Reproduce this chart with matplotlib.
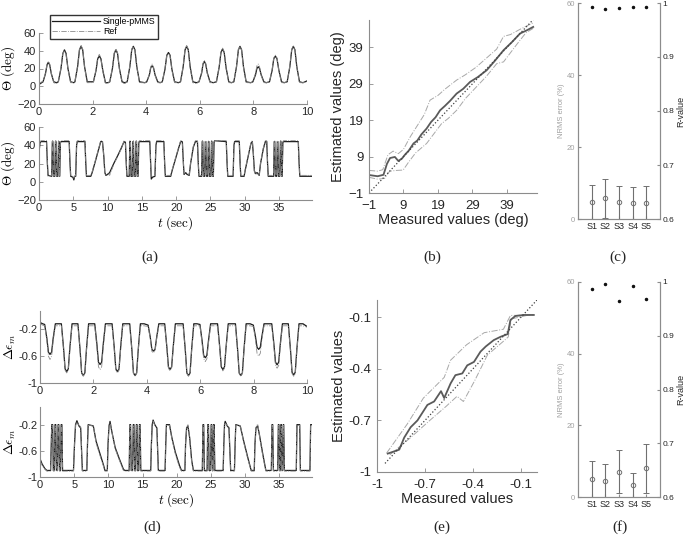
import numpy as np
import matplotlib
matplotlib.use("Agg")
import matplotlib.pyplot as plt

plt.rcParams['font.family'] = ['Liberation Sans', 'DejaVu Sans']
plt.rcParams['mathtext.fontset'] = 'cm'
plt.rcParams['axes.linewidth'] = 0.8

# ---- (a) top: Theta, 0-10 s  (t, single-pMMS, ref)
a1 = [
    (0.0, 2, 3), (0.1, 4, 5),
    (0.15, 5, 5), (0.24, 14, 15), (0.3, 24, 25), (0.35, 27, 28), (0.4, 24, 25), (0.46, 14, 15), (0.55, 5, 4), (0.65, 4, 3),
    (0.72, 5, 5), (0.82, 20, 21), (0.89, 37, 37), (0.95, 41, 40), (1.01, 37, 36), (1.08, 20, 19), (1.18, 5, 4), (1.3, 4, 4),
    (1.34, 5, 5), (1.44, 22, 23), (1.51, 41, 42), (1.57, 45, 46), (1.63, 41, 42), (1.7, 22, 21), (1.8, 5, 4), (1.95, 5, 4),
    (2.03, 5, 5), (2.13, 18, 19), (2.19, 31, 32), (2.25, 34, 36), (2.31, 31, 32), (2.38, 18, 17), (2.48, 4, 3), (2.58, 4, 4),
    (2.64, 5, 5), (2.74, 20, 21), (2.81, 37, 38), (2.87, 41, 42), (2.93, 37, 38), (3.0, 20, 19), (3.1, 5, 4), (3.2, 4, 3),
    (3.29, 5, 5), (3.39, 22, 23), (3.46, 41, 42), (3.52, 45, 45), (3.58, 41, 41), (3.65, 22, 21), (3.75, 5, 4), (3.95, 4, 4),
    (4.02, 5, 5), (4.12, 13, 14), (4.17, 21, 22), (4.22, 23, 25), (4.27, 21, 22), (4.33, 13, 12), (4.43, 5, 4), (4.52, 4, 4),
    (4.6, 5, 5), (4.7, 19, 20), (4.77, 35, 35), (4.83, 38, 37), (4.89, 35, 34), (4.96, 19, 18), (5.06, 5, 4), (5.2, 4, 4),
    (5.28, 5, 5), (5.38, 22, 23), (5.45, 41, 42), (5.51, 45, 46), (5.57, 41, 42), (5.64, 22, 21), (5.74, 5, 4), (5.88, 4, 3),
    (5.97, 5, 5), (6.07, 15, 16), (6.12, 25, 26), (6.17, 28, 29), (6.22, 25, 26), (6.28, 15, 14), (6.38, 5, 4), (6.5, 4, 4),
    (6.62, 5, 5), (6.72, 21, 22), (6.79, 38, 39), (6.85, 42, 43), (6.91, 38, 39), (6.98, 21, 20), (7.08, 5, 4), (7.18, 4, 4),
    (7.27, 5, 5), (7.37, 22, 23), (7.44, 41, 42), (7.5, 45, 45), (7.56, 41, 41), (7.63, 22, 21), (7.73, 5, 4), (7.9, 4, 4),
    (7.98, 5, 5), (8.08, 13, 15), (8.13, 20, 23), (8.18, 22, 25), (8.23, 20, 22), (8.29, 13, 12), (8.39, 5, 4), (8.48, 4, 4),
    (8.6, 5, 5), (8.7, 18, 19), (8.76, 31, 32), (8.82, 34, 35), (8.88, 31, 32), (8.95, 18, 17), (9.05, 5, 4), (9.15, 4, 4),
    (9.26, 5, 5), (9.36, 22, 23), (9.43, 41, 42), (9.49, 45, 45), (9.55, 41, 41), (9.62, 22, 21), (9.72, 5, 4), (9.85, 4, 4),
    (10.0, 6, 5),
]

# ---- (a) bottom: Theta, 0-40 s
a2 = [
    (0.0, 32, 34), (0.15, 43, 44), (0.3, 44, 45), (1.1, 44, 45), (1.22, 20, 22), (1.32, 7, 6), (1.85, 6, 7),
    (1.95, 44, 45), (2.02, 44, 45), (2.12, 6, 6), (2.3, 6, 7), (2.4, 44, 45), (2.47, 44, 45), (2.57, 6, 6),
    (2.75, 6, 7), (2.85, 44, 45), (2.92, 44, 45), (3.02, 6, 6),
    (3.12, 43, 44), (3.25, 44, 45), (4.4, 44, 45), (4.52, 20, 21), (4.62, 6, 7), (4.95, 5, 6), (5.08, 2, 4),
    (5.2, 6, 6), (5.35, 6, 7), (5.48, 40, 41), (5.58, 44, 45),
    (6.7, 44, 45), (6.82, 20, 21), (6.92, 6, 7), (7.55, 6, 7), (7.75, 10, 11), (8.2, 22, 23), (8.7, 36, 37),
    (9.0, 44, 45), (9.25, 44, 45), (9.45, 28, 27), (9.6, 10, 9), (9.75, 7, 8),
    (10.0, 8, 9), (10.3, 10, 7), (10.9, 20, 19), (11.5, 29, 28), (12.0, 37, 36), (12.4, 44, 45), (12.6, 43, 44),
    (12.72, 20, 21), (12.82, 6, 7), (13.15, 6, 7),
    (13.25, 44, 45), (13.32, 44, 45), (13.42, 6, 6), (13.6, 6, 7), (13.7, 44, 45), (13.77, 44, 45), (13.87, 6, 6),
    (14.05, 6, 7), (14.15, 44, 45), (14.22, 44, 45), (14.32, 6, 6), (14.45, 6, 7),
    (14.55, 43, 44), (14.65, 44, 45), (16.15, 44, 45), (16.27, 20, 21), (16.37, 3, 5), (16.55, 5, 6), (16.9, 6, 7),
    (17.05, 40, 41), (17.15, 44, 45),
    (18.2, 44, 45), (18.32, 20, 21), (18.42, 6, 7), (19.2, 6, 7), (19.4, 12, 13), (19.9, 25, 26), (20.4, 38, 39),
    (20.65, 44, 45), (20.9, 44, 45), (21.05, 20, 21), (21.15, 8, 9),
    (21.35, 10, 11), (21.6, 8, 9), (21.9, 7, 8), (22.1, 20, 21), (22.5, 38, 39), (22.8, 44, 45), (23.1, 44, 45),
    (23.22, 20, 21), (23.32, 6, 7), (23.7, 6, 7),
    (23.8, 44, 45), (23.87, 44, 45), (23.97, 6, 6), (24.15, 6, 7), (24.25, 44, 45), (24.32, 44, 45), (24.42, 6, 6),
    (24.6, 6, 7), (24.7, 44, 45), (24.77, 44, 45), (24.87, 6, 6), (25.05, 6, 7), (25.15, 44, 45), (25.2, 44, 45),
    (25.3, 6, 6), (25.42, 6, 7),
    (25.52, 43, 44), (25.6, 45, 45), (27.3, 44, 45), (27.42, 20, 21), (27.52, 6, 7), (28.3, 6, 7), (28.42, 40, 41),
    (28.52, 44, 45), (29.2, 44, 45), (29.32, 20, 21), (29.42, 6, 7), (29.9, 6, 7),
    (30.1, 14, 15), (30.5, 28, 29), (30.9, 42, 43), (31.1, 44, 45), (31.25, 30, 31), (31.4, 12, 11), (31.55, 9, 8),
    (31.8, 10, 9), (32.1, 7, 8),
    (32.3, 20, 21), (32.7, 36, 37), (33.0, 44, 45), (33.2, 44, 45), (33.32, 20, 21), (33.42, 6, 7), (34.2, 6, 7),
    (34.3, 44, 45), (34.37, 44, 45), (34.47, 6, 6), (34.65, 6, 7), (34.75, 44, 45), (34.82, 44, 45), (34.92, 6, 6),
    (35.1, 6, 7), (35.2, 44, 45), (35.27, 44, 45), (35.37, 6, 6), (35.45, 6, 7),
    (35.55, 43, 44), (35.65, 44, 45), (37.8, 44, 45), (37.92, 20, 21), (38.02, 6, 7), (39.75, 6, 7),
]

# ---- (d) top: delta eps_m, 0-10 s
d1 = [
    (0.0, -0.1, -0.12), (0.1, -0.12, -0.14),
    (0.175, -0.13, -0.15), (0.255, -0.33, -0.37), (0.315, -0.54, -0.6), (0.375, -0.575, -0.65), (0.435, -0.54, -0.6), (0.495, -0.33, -0.37), (0.575, -0.12, -0.15), (0.7, -0.12, -0.15),
    (0.8, -0.12, -0.15), (0.88, -0.47, -0.5), (0.94, -0.79, -0.81), (1.0, -0.83, -0.85), (1.06, -0.79, -0.81), (1.12, -0.47, -0.5), (1.2, -0.12, -0.15), (1.32, -0.12, -0.15),
    (1.42, -0.12, -0.15), (1.5, -0.5, -0.52), (1.56, -0.85, -0.86), (1.62, -0.89, -0.9), (1.68, -0.85, -0.86), (1.74, -0.5, -0.52), (1.82, -0.12, -0.15), (1.95, -0.12, -0.15),
    (2.05, -0.12, -0.15), (2.13, -0.42, -0.47), (2.19, -0.69, -0.76), (2.25, -0.725, -0.8), (2.31, -0.69, -0.76), (2.37, -0.42, -0.47), (2.45, -0.12, -0.15), (2.58, -0.12, -0.15),
    (2.7, -0.12, -0.15), (2.78, -0.47, -0.5), (2.84, -0.79, -0.81), (2.9, -0.83, -0.85), (2.96, -0.79, -0.81), (3.02, -0.47, -0.5), (3.1, -0.12, -0.15), (3.22, -0.12, -0.15),
    (3.36, -0.12, -0.15), (3.44, -0.5, -0.52), (3.5, -0.85, -0.86), (3.56, -0.89, -0.9), (3.62, -0.85, -0.86), (3.68, -0.5, -0.52), (3.76, -0.12, -0.15), (3.9, -0.12, -0.15),
    (4.05, -0.14, -0.16), (4.13, -0.32, -0.34), (4.19, -0.5, -0.53), (4.25, -0.525, -0.55), (4.31, -0.5, -0.53), (4.37, -0.32, -0.34), (4.45, -0.12, -0.15), (4.55, -0.12, -0.15),
    (4.67, -0.12, -0.15), (4.75, -0.46, -0.48), (4.81, -0.76, -0.78), (4.87, -0.8, -0.82), (4.93, -0.76, -0.78), (4.99, -0.46, -0.48), (5.07, -0.12, -0.15), (5.22, -0.12, -0.15),
    (5.36, -0.12, -0.15), (5.44, -0.5, -0.52), (5.5, -0.85, -0.86), (5.56, -0.89, -0.9), (5.62, -0.85, -0.86), (5.68, -0.5, -0.52), (5.76, -0.12, -0.15), (5.88, -0.12, -0.15),
    (5.99, -0.13, -0.15), (6.07, -0.37, -0.41), (6.13, -0.59, -0.64), (6.19, -0.625, -0.68), (6.25, -0.59, -0.64), (6.31, -0.37, -0.41), (6.39, -0.12, -0.15), (6.52, -0.12, -0.15),
    (6.65, -0.12, -0.15), (6.73, -0.46, -0.48), (6.79, -0.76, -0.78), (6.85, -0.8, -0.82), (6.91, -0.76, -0.78), (6.97, -0.46, -0.48), (7.05, -0.12, -0.15), (7.18, -0.12, -0.15),
    (7.32, -0.12, -0.15), (7.4, -0.5, -0.52), (7.46, -0.85, -0.86), (7.52, -0.89, -0.9), (7.58, -0.85, -0.86), (7.64, -0.5, -0.52), (7.72, -0.12, -0.15), (7.87, -0.12, -0.15),
    (7.99, -0.14, -0.16), (8.07, -0.31, -0.36), (8.13, -0.47, -0.56), (8.19, -0.5, -0.6), (8.25, -0.47, -0.56), (8.31, -0.31, -0.36), (8.39, -0.12, -0.15), (8.54, -0.12, -0.15),
    (8.68, -0.12, -0.15), (8.76, -0.42, -0.46), (8.82, -0.69, -0.74), (8.88, -0.73, -0.78), (8.94, -0.69, -0.74), (9.0, -0.42, -0.46), (9.08, -0.12, -0.15), (9.17, -0.12, -0.15),
    (9.3, -0.12, -0.15), (9.38, -0.5, -0.52), (9.44, -0.84, -0.86), (9.5, -0.88, -0.9), (9.56, -0.84, -0.86), (9.62, -0.5, -0.52), (9.7, -0.12, -0.15), (9.85, -0.12, -0.15),
    (10.0, -0.16, -0.17),
]

# ---- (d) bottom: delta eps_m, 0-40 s
d2 = [
    (0.0, -0.72, -0.75), (0.3, -0.8, -0.82), (0.7, -0.87, -0.88), (1.0, -0.9, -0.91), (1.55, -0.9, -0.91),
    (1.65, -0.5, -0.52), (1.72, -0.2, -0.21),
    (1.85, -0.2, -0.21), (1.95, -0.9, -0.91), (2.1, -0.9, -0.91), (2.2, -0.2, -0.21), (2.3, -0.2, -0.21),
    (2.4, -0.9, -0.91), (2.55, -0.9, -0.91), (2.65, -0.2, -0.21), (2.75, -0.2, -0.21), (2.85, -0.9, -0.91),
    (3.0, -0.9, -0.91), (3.1, -0.2, -0.21), (3.2, -0.2, -0.21), (3.3, -0.9, -0.91),
    (4.9, -0.9, -0.91), (5.05, -0.5, -0.52), (5.2, -0.2, -0.21), (5.4, -0.14, -0.17), (5.7, -0.22, -0.21),
    (5.95, -0.25, -0.23), (6.08, -0.6, -0.6), (6.2, -0.9, -0.91),
    (6.85, -0.9, -0.91), (6.95, -0.5, -0.52), (7.05, -0.2, -0.21), (7.8, -0.22, -0.21), (8.2, -0.45, -0.48),
    (8.8, -0.65, -0.68), (9.3, -0.82, -0.84), (9.5, -0.9, -0.91),
    (9.85, -0.9, -0.91), (9.95, -0.5, -0.5), (10.1, -0.22, -0.2), (10.25, -0.15, -0.17), (10.5, -0.3, -0.3),
    (11.0, -0.55, -0.57), (11.6, -0.72, -0.74), (12.2, -0.88, -0.9), (12.4, -0.9, -0.91),
    (13.05, -0.9, -0.91), (13.15, -0.2, -0.21), (13.25, -0.2, -0.21), (13.35, -0.9, -0.91), (13.55, -0.9, -0.91),
    (13.65, -0.2, -0.21), (13.75, -0.2, -0.21), (13.85, -0.9, -0.91), (14.0, -0.9, -0.91), (14.1, -0.2, -0.21),
    (14.2, -0.2, -0.21), (14.3, -0.9, -0.91), (14.45, -0.9, -0.91), (14.55, -0.2, -0.21), (14.65, -0.2, -0.21),
    (14.75, -0.9, -0.91),
    (16.2, -0.9, -0.91), (16.3, -0.5, -0.5), (16.42, -0.2, -0.2), (16.55, -0.13, -0.15), (16.8, -0.2, -0.21),
    (17.1, -0.25, -0.24), (17.22, -0.6, -0.6), (17.32, -0.9, -0.91),
    (18.3, -0.9, -0.91), (18.4, -0.5, -0.5), (18.5, -0.2, -0.21), (18.95, -0.2, -0.21), (19.3, -0.4, -0.42),
    (19.8, -0.62, -0.65), (20.4, -0.82, -0.85), (20.7, -0.9, -0.91),
    (21.2, -0.9, -0.91), (21.3, -0.5, -0.5), (21.45, -0.25, -0.24), (21.65, -0.22, -0.2), (21.9, -0.4, -0.42),
    (22.2, -0.75, -0.78), (22.45, -0.9, -0.91),
    (23.75, -0.9, -0.91), (23.85, -0.2, -0.21), (23.95, -0.2, -0.21), (24.05, -0.9, -0.91), (24.45, -0.9, -0.91),
    (24.55, -0.2, -0.21), (24.65, -0.2, -0.21), (24.75, -0.9, -0.91), (24.95, -0.9, -0.91), (25.05, -0.2, -0.21),
    (25.13, -0.2, -0.21), (25.23, -0.9, -0.91), (25.3, -0.9, -0.91), (25.4, -0.2, -0.21), (25.48, -0.2, -0.21),
    (25.58, -0.9, -0.91),
    (26.8, -0.9, -0.91), (26.9, -0.5, -0.5), (27.0, -0.2, -0.2), (27.1, -0.15, -0.18), (27.4, -0.22, -0.21),
    (27.65, -0.25, -0.24), (27.78, -0.6, -0.6), (27.9, -0.9, -0.91),
    (28.45, -0.9, -0.91), (28.55, -0.5, -0.5), (28.65, -0.2, -0.21), (29.3, -0.22, -0.21), (29.8, -0.45, -0.47),
    (30.4, -0.7, -0.72), (30.9, -0.9, -0.91),
    (31.35, -0.9, -0.91), (31.45, -0.5, -0.5), (31.6, -0.25, -0.24), (31.85, -0.22, -0.19), (32.1, -0.35, -0.36),
    (32.6, -0.65, -0.68), (33.05, -0.9, -0.91),
    (33.85, -0.9, -0.91), (33.95, -0.2, -0.21), (34.05, -0.2, -0.21), (34.15, -0.9, -0.91), (34.78, -0.9, -0.91),
    (34.88, -0.2, -0.21), (34.96, -0.2, -0.21), (35.06, -0.9, -0.91), (35.15, -0.9, -0.91), (35.25, -0.2, -0.21),
    (35.32, -0.2, -0.21), (35.42, -0.9, -0.91), (35.5, -0.9, -0.91), (35.6, -0.2, -0.21), (35.66, -0.2, -0.21),
    (35.76, -0.9, -0.91),
    (37.5, -0.9, -0.91), (37.6, -0.2, -0.21), (38.0, -0.2, -0.21), (38.1, -0.9, -0.91),
    (39.5, -0.9, -0.91), (39.6, -0.2, -0.21), (39.75, -0.2, -0.21),
]

# ---- (b) estimated vs measured, degrees: mean line and band
b_mean = [(-0.7, 3.9), (1.5, 3.6), (3.2, 4.0), (4.2, 7.0), (5.1, 8.6), (6.5, 8.9), (7.5, 7.8), (8.5, 8.4),
          (9.5, 9.6), (10.5, 10.6), (11.9, 12.6), (13.0, 13.4), (14.2, 15.1), (15.7, 16.7), (17.0, 18.5),
          (18.3, 19.8), (19.6, 21.7), (21.0, 22.9), (22.5, 24.3), (24.4, 26.3), (26.3, 27.6), (28.3, 29.5),
          (30.5, 30.8), (33.1, 32.7), (35.4, 35.2), (38.0, 38.2), (40.4, 40.4), (42.8, 42.8), (44.8, 43.7),
          (46.6, 44.6)]
b_upper = [(-1, 5.2), (1.5, 5.0), (3.0, 5.4), (4.5, 9.5), (6.0, 10.5), (7.5, 9.8), (9.0, 11.0), (11.0, 14.5),
           (13.0, 17.5), (15.0, 20.5), (16.7, 24.5), (19.0, 25.8), (21.0, 27.5), (24.4, 30.0), (27.0, 31.5),
           (30.0, 33.5), (33.0, 36.0), (36.0, 38.5), (38.0, 42.0), (40.0, 42.5), (42.5, 43.8), (45.0, 45.0),
           (46.8, 45.8)]
b_lower = [(-1, 3.3), (1.5, 2.8), (3.5, 3.0), (5.0, 5.0), (7.0, 5.2), (8.9, 5.3), (10.5, 7.5), (12.5, 10.0),
           (15.7, 12.6), (18.0, 15.5), (20.0, 18.0), (22.0, 19.5), (24.4, 21.7), (27.0, 25.0), (30.0, 28.0),
           (33.0, 31.0), (36.0, 34.5), (38.0, 35.0), (40.0, 37.5), (42.0, 40.0), (44.5, 43.0), (46.6, 44.2)]

# ---- (e) estimated vs measured, strain
e_mean = [(-0.933, -0.893), (-0.861, -0.87), (-0.83, -0.80), (-0.79, -0.74), (-0.747, -0.70), (-0.685, -0.61),
          (-0.643, -0.59), (-0.60, -0.53), (-0.58, -0.57), (-0.54, -0.485), (-0.51, -0.437), (-0.467, -0.427),
          (-0.436, -0.38), (-0.394, -0.36), (-0.353, -0.30), (-0.32, -0.27), (-0.27, -0.233), (-0.228, -0.214),
          (-0.183, -0.198), (-0.166, -0.116), (-0.135, -0.093), (-0.083, -0.087), (-0.02, -0.087)]
e_upper = [(-0.94, -0.89), (-0.81, -0.72), (-0.71, -0.57), (-0.58, -0.45), (-0.54, -0.35), (-0.44, -0.26),
           (-0.33, -0.19), (-0.21, -0.17), (-0.166, -0.09), (-0.02, -0.087)]
e_lower = [(-0.92, -0.9), (-0.79, -0.80), (-0.67, -0.70), (-0.57, -0.62), (-0.50, -0.56), (-0.46, -0.59),
           (-0.39, -0.47), (-0.31, -0.32), (-0.21, -0.24), (-0.18, -0.215), (-0.16, -0.11), (-0.05, -0.087)]

# ---- (c), (f) per-subject NRMS error and R-value
subjects = ['S1', 'S2', 'S3', 'S4', 'S5']
c_nrms = [4.7, 5.7, 4.7, 4.4, 4.4]
c_std = [4.7, 5.5, 4.6, 4.5, 4.7]
c_r = [0.992, 0.988, 0.990, 0.992, 0.993]
f_nrms = [5.0, 4.5, 7.0, 3.3, 8.0]
f_std = [5.0, 4.8, 6.0, 3.3, 6.8]
f_r = [0.987, 0.996, 0.965, 0.993, 0.969]

SPINE = '#8c8c8c'
TXT = '#262626'


def style(ax, fs=8, xpad=2, ypad=2):
    for s in ['top', 'right']:
        ax.spines[s].set_visible(False)
    for s in ['left', 'bottom']:
        ax.spines[s].set_color(SPINE)
    ax.tick_params(direction='in', length=3, width=0.6, colors=SPINE, labelcolor=TXT, labelsize=fs)
    ax.tick_params(axis='x', pad=xpad)
    ax.tick_params(axis='y', pad=ypad)


def series(ax, data):
    t, est, ref = zip(*data)
    l1, = ax.plot(t, est, '-', color='#1a1a1a', lw=0.9)
    l2, = ax.plot(t, ref, '-.', color='#8a8a8a', lw=0.6)
    return l1, l2


W, H = 685, 543
fig = plt.figure(figsize=(6.85, 5.43), dpi=100)


def box(x0, y0, x1, y1):
    return [x0 / W, 1 - y1 / H, (x1 - x0) / W, (y1 - y0) / H]


# (a)
ax = fig.add_axes(box(39, 33, 307, 104))
l1, l2 = series(ax, a1)
ax.set_xlim(0, 10)
ax.set_ylim(-20, 60)
ax.set_xticks([0, 2, 4, 6, 8, 10])
ax.set_yticks([-20, 0, 20, 40, 60])
style(ax, 8)
ax.set_ylabel(r'$\Theta\ (\mathrm{deg})$', fontsize=9.5, labelpad=0)
fig.legend([l1, l2], ['Single-pMMS', 'Ref'], loc='upper left', bbox_to_anchor=(50 / W, 1 - 15 / H),
           fontsize=6.3, handlelength=5.5, frameon=True, fancybox=False, edgecolor='k',
           borderpad=0.25, labelspacing=0.15, handletextpad=0.3, borderaxespad=0)

ax = fig.add_axes(box(39, 127, 312, 200))
series(ax, a2)
ax.set_xlim(0, 39.8)
ax.set_ylim(-20, 60)
ax.set_xticks([0, 5, 10, 15, 20, 25, 30, 35])
ax.set_yticks([-20, 0, 20, 40, 60])
style(ax, 8)
ax.set_ylabel(r'$\Theta\ (\mathrm{deg})$', fontsize=9.5, labelpad=0)
ax.set_xlabel(r'$t\ (\mathrm{sec})$', fontsize=9.5, labelpad=1)

# (d)
ax = fig.add_axes(box(40, 311, 307, 383))
series(ax, d1)
ax.set_xlim(0, 10)
ax.set_ylim(-1, 0.07)
ax.set_xticks([0, 2, 4, 6, 8, 10])
ax.set_yticks([-1, -0.6, -0.2])
ax.set_yticklabels(['-1', '-0.6', '-0.2'])
style(ax, 8)
ax.set_ylabel(r'$\Delta\epsilon_m$', fontsize=9.5, labelpad=0)

ax = fig.add_axes(box(40, 407, 312, 477))
series(ax, d2)
ax.set_xlim(0, 39.8)
ax.set_ylim(-1, 0.07)
ax.set_xticks([0, 5, 10, 15, 20, 25, 30, 35])
ax.set_yticks([-1, -0.6, -0.2])
ax.set_yticklabels(['-1', '-0.6', '-0.2'])
style(ax, 8)
ax.set_ylabel(r'$\Delta\epsilon_m$', fontsize=9.5, labelpad=0)
ax.set_xlabel(r'$t\ (\mathrm{sec})$', fontsize=9.5, labelpad=1)


def scatter_panel(ax, mean, upper, lower, diag):
    for d, st, c, lw in [(upper, '-.', '#a8a8a8', 0.7), (lower, '-.', '#a8a8a8', 0.7), (mean, '-', '#5a5a5a', 1.3)]:
        x, y = zip(*d)
        ax.plot(x, y, st, color=c, lw=lw)
    ax.plot(diag, diag, ':', color='#404040', lw=0.9)


# (b)
ax = fig.add_axes(box(369, 20, 537, 193))
scatter_panel(ax, b_mean, b_upper, b_lower, [-1, 47.5])
ax.set_xlim(-1, 47.7)
ax.set_ylim(-1, 46.5)
ax.set_xticks([-1, 9, 19, 29, 39])
ax.set_yticks([-1, 9, 19, 29, 39])
style(ax, 9.5, xpad=5, ypad=4)
ax.set_xlabel('Measured values (deg)', fontsize=10.5, color=TXT, labelpad=1)
ax.set_ylabel('Estimated values (deg)', fontsize=10.5, color=TXT, labelpad=2)

# (e)
ax = fig.add_axes(box(377, 300, 537, 472))
scatter_panel(ax, e_mean, e_upper, e_lower, [-0.95, 0])
ax.set_xlim(-1, 0)
ax.set_ylim(-1, 0)
ax.set_xticks([-1, -0.7, -0.4, -0.1])
ax.set_xticklabels(['-1', '-0.7', '-0.4', '-0.1'])
ax.set_yticks([-1, -0.7, -0.4, -0.1])
ax.set_yticklabels(['-1', '-0.7', '-0.4', '-0.1'])
style(ax, 9.5, xpad=5, ypad=4)
ax.set_xlabel('Measured values', fontsize=10.5, color=TXT, labelpad=1)
ax.set_ylabel('Estimated values', fontsize=10.5, color=TXT, labelpad=2)


def error_panel(rect, nrms, std, rv):
    ax = fig.add_axes(rect)
    x = np.arange(1, len(subjects) + 1)
    ax.errorbar(x, nrms, yerr=std, fmt='o', ms=3.2, mfc='none', mec='#707070', mew=0.7,
                ecolor='#707070', elinewidth=0.8, capsize=2, capthick=0.6)
    ax.set_xlim(0, 6)
    ax.set_ylim(0, 60)
    ax.set_xticks(x)
    ax.set_xticklabels(subjects)
    ax.set_yticks([0, 20, 40, 60])
    ax.spines['top'].set_visible(False)
    for s in ['left', 'bottom', 'right']:
        ax.spines[s].set_color(SPINE)
    ax.tick_params(axis='x', direction='in', length=2, colors=SPINE, labelcolor=TXT, labelsize=6.5, pad=2)
    ax.tick_params(axis='y', direction='in', length=2, colors=SPINE, labelcolor='#a0a0a0', labelsize=5.5, pad=2)
    ax.set_ylabel('NRMS error (%)', fontsize=5.5, color='#a0a0a0', labelpad=1)
    ax2 = ax.twinx()
    ax2.plot(x, rv, '.', color='#111111', ms=3)
    ax2.set_ylim(0.6, 1)
    ax2.set_yticks([0.6, 0.7, 0.8, 0.9, 1.0])
    ax2.set_yticklabels(['0.6', '0.7', '0.8', '0.9', '1'])
    ax2.spines['top'].set_visible(False)
    for s in ['left', 'bottom', 'right']:
        ax2.spines[s].set_color(SPINE)
    ax2.tick_params(axis='y', direction='in', length=2, colors=SPINE, labelcolor=TXT, labelsize=6, pad=2)
    ax2.set_ylabel('R-value', fontsize=6.5, color=TXT, labelpad=1)


error_panel(box(578, 3, 660, 219), c_nrms, c_std, c_r)
error_panel(box(578, 282, 660, 497), f_nrms, f_std, f_r)

# captions
for lab, x, y in [('(a)', 150, 257), ('(b)', 432, 257), ('(c)', 618, 257),
                  ('(d)', 152, 527), ('(e)', 442, 527), ('(f)', 620, 527)]:
    fig.text(x / W, 1 - y / H, lab, ha='center', va='center', fontsize=11,
             family=['Liberation Serif', 'DejaVu Serif'], color=TXT)

fig.savefig('out.png', dpi=100)
